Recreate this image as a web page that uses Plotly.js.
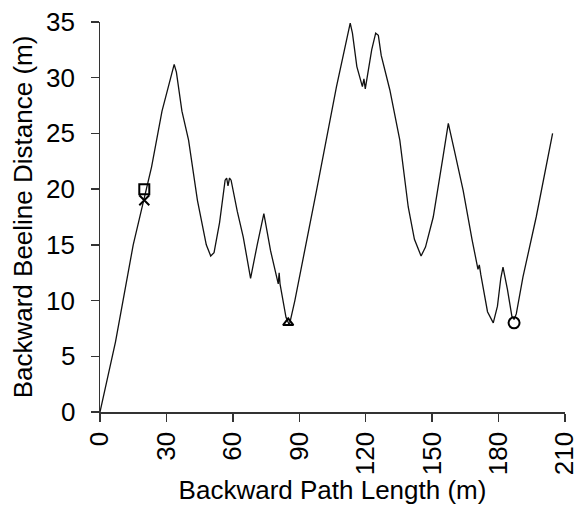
<!DOCTYPE html>
<html>
<head>
<meta charset="utf-8">
<script src="https://cdn.plot.ly/plotly-3.0.1.min.js"></script>
<style>html,body{margin:0;padding:0;background:#fff;}#chart{width:583px;height:510px;}</style>
</head>
<body>
<div id="chart"></div>
<script>
const pathLength = [0,7,15,19.6,21,23.3,28,32.5,33.5,34.5,37,40,44,48,50,51.5,54,56.5,57.2,57.8,58.5,59.2,62,64.7,68,71,74,77,80.5,80.9,81.3,84,85.5,88,90.3,97.8,106.8,111,113,114,116,118.5,119.2,119.8,120.5,122.7,124.5,125.7,127,130.9,135.4,139.2,142,145,147,150.5,155,157.3,160,164,168,170.7,171.3,172,175,177.6,179.5,181,182,184,186,187,188,191,197,204.4];
const beeline = [0,6.3,15,19,20.3,22,27,30.5,31.2,30.5,27,24.4,19,15,14,14.3,17,20.8,21,20.3,21,20.8,18,15.7,12,15,17.8,14.5,11.5,12.5,11.5,8.5,7.8,10,12.3,19.9,29.2,33,34.9,34,31,29.2,29.9,29,29.8,32.5,34,33.8,32,28.9,24.4,18.4,15.5,14,14.8,17.5,23,25.9,23.5,19.9,15.5,12.8,13.2,12.3,9,8,9.5,12,13,11,8.6,8.3,8.8,12.1,17.5,25];
const squareX = [20], squareY = [20];
const crossX = [20], crossY = [19];
const triX = [85], triY = [8];
const circX = [187], circY = [8];
const xTicks = [0,30,60,90,120,150,180,210];
const yTicks = [0,5,10,15,20,25,30,35];
const yTickLabels = yTicks.map(String);

const mk = (x,y,sym,size)=>({x:x,y:y,type:'scatter',mode:'markers',showlegend:false,
  marker:{symbol:sym,size:size,color:'#000',line:{color:'#000',width:2}}});

const traces = [
  {x:pathLength,y:beeline,type:'scatter',mode:'lines',showlegend:false,line:{color:'#111',width:1.3}},
  mk(squareX,squareY,'square-open',10),
  mk(crossX,crossY,'x-thin-open',10),
  mk(triX,triY,'triangle-up-open',9),
  mk(circX,circY,'circle-open',11)
];
const font = {family:'Liberation Sans, Arial, sans-serif',size:26,color:'#000'};
const layout = {
  width:583,height:510,
  margin:{l:100,r:18,t:22,b:98},
  paper_bgcolor:'#fff',plot_bgcolor:'#fff',
  font:font,
  xaxis:{range:[0,210],tickvals:xTicks,ticktext:xTicks.map(String),tickangle:-90,
    showgrid:false,zeroline:false,showline:true,linecolor:'#333',linewidth:1.5,
    ticks:'outside',ticklen:8,tickcolor:'#333',tickwidth:1.5,tickfont:font,
    title:{text:'Backward Path Length (m)',font:font,standoff:2}},
  yaxis:{range:[0,35],tickvals:yTicks,showticklabels:false,
    showgrid:false,zeroline:false,showline:true,linecolor:'#333',linewidth:1.5,
    ticks:'outside',ticklen:8,tickcolor:'#333',tickwidth:1.5,
    title:{text:'Backward Beeline Distance (m)',font:font,standoff:50}},
  annotations: yTicks.map((v,i)=>({x:0,xref:'paper',y:v,yref:'y',text:yTickLabels[i],
    showarrow:false,xanchor:'right',yanchor:'middle',xshift:-23,font:font}))
};
Plotly.newPlot('chart',traces,layout,{displayModeBar:false,staticPlot:true});
</script>
</body>
</html>
